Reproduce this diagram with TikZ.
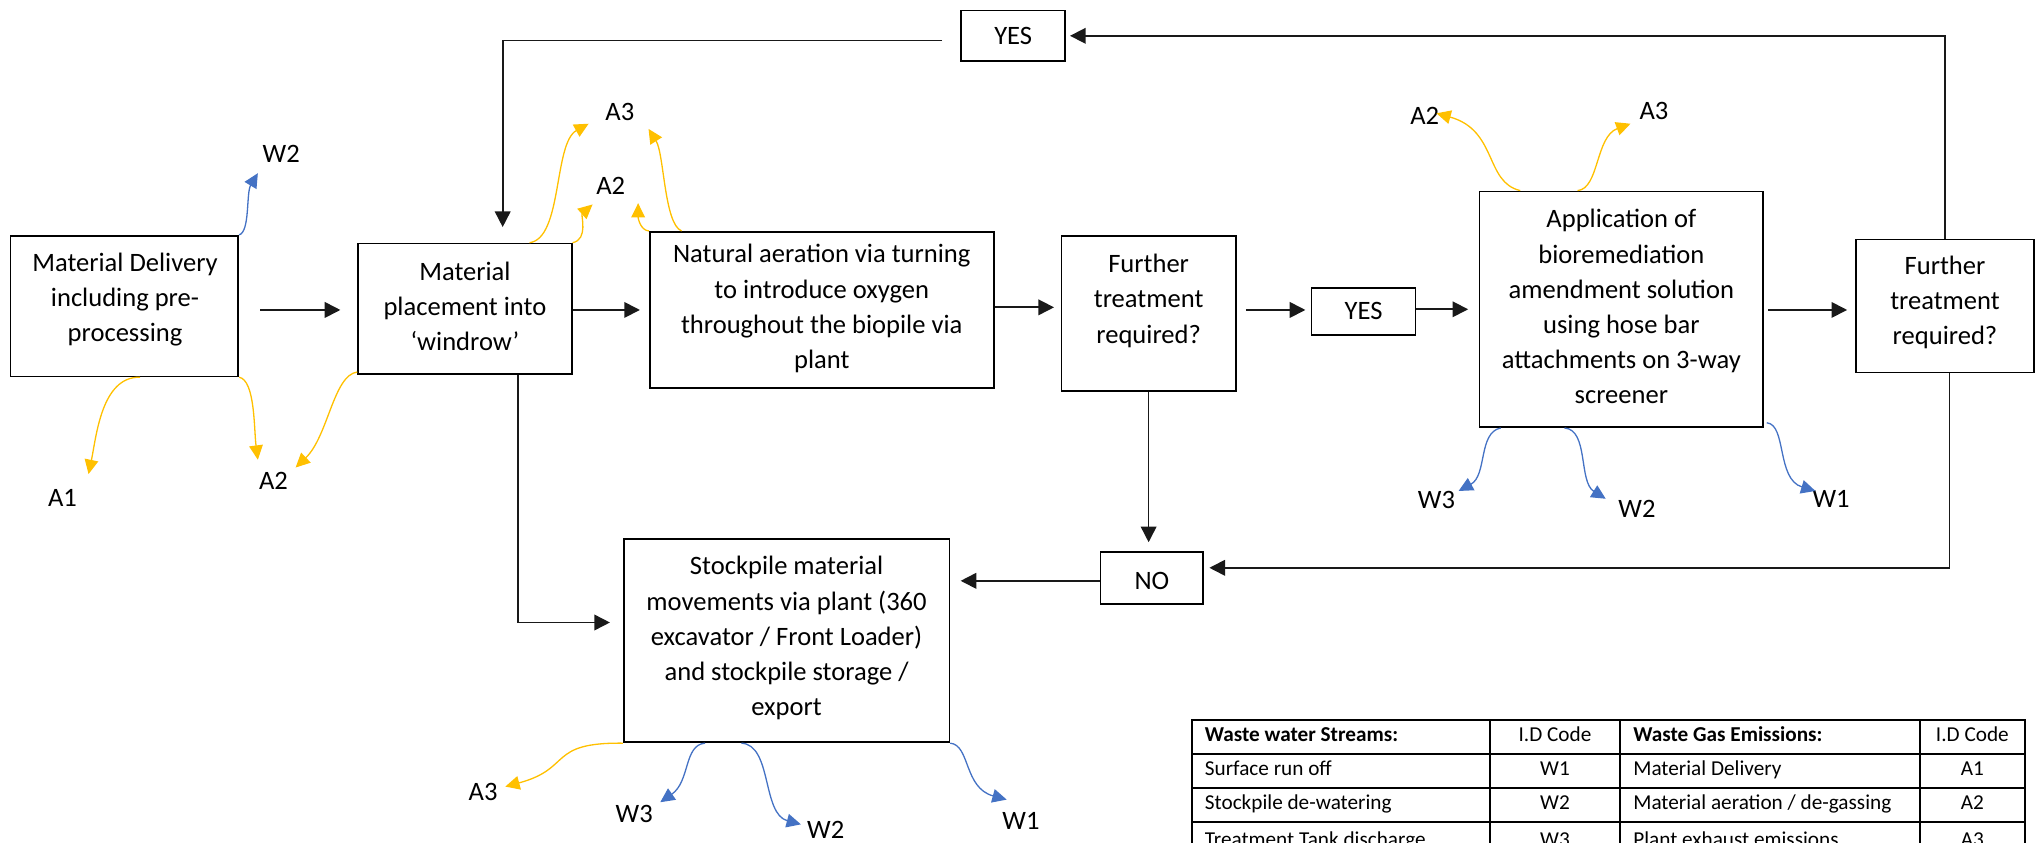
\documentclass[tikz,border=0pt]{standalone}
\usepackage{fontspec}
\setmainfont{Carlito}
\usetikzlibrary{arrows.meta,calc}

\definecolor{gasyellow}{HTML}{FFC000}
\definecolor{waterblue}{HTML}{4472C4}

\tikzset{
  box/.style={draw=black, line width=1.3pt, inner sep=0pt},
  txt/.style={align=center, inner sep=0pt, font=\fontsize{20.4}{27}\selectfont},
  lbl/.style={inner sep=0pt, font=\fontsize{20.4}{24}\selectfont},
  flow/.style={draw=black!90, line width=1.3pt, -{Triangle[length=12pt,width=12pt]}},
  gas/.style={draw=gasyellow, line width=1pt, -{Triangle[length=11pt,width=10.5pt]}},
  water/.style={draw=waterblue, line width=1pt, -{Triangle[length=11pt,width=10.5pt]}},
  grid/.style={draw=black, line width=1.4pt},
  cell/.style={inner sep=0pt, text height=11pt, text depth=3.5pt, font=\fontsize{16.3}{19}\selectfont},
}

\begin{document}
\begin{tikzpicture}[x=1pt,y=-1pt]
\useasboundingbox (0,0) rectangle (1568,647);

% process boxes
\node[box, minimum width=175, minimum height=108] (b1) at (95.5,235) {};
\node[box, minimum width=164, minimum height=100] (b2) at (357,237) {};
\node[box, minimum width=264, minimum height=120] (b3) at (631,238) {};
\node[box, minimum width=134, minimum height=119] (b4) at (882,240.5) {};
\node[box, minimum width=80, minimum height=36] (yes1) at (1047,239) {};
\node[box, minimum width=218, minimum height=181] (b6) at (1245,237.5) {};
\node[box, minimum width=137, minimum height=102] (b7) at (1493.5,235) {};
\node[box, minimum width=80, minimum height=39] (yes2) at (778,27.5) {};
\node[box, minimum width=79, minimum height=40] (no) at (884.5,444) {};
\node[box, minimum width=250, minimum height=156] (sp) at (604,492) {};

% box texts
\node[txt] (b1t) at (96,230) {Material Delivery\\including pre-\\processing};
\node[txt] (b2t) at (357,235) {Material\\placement into\\‘windrow’};
\node[txt] (b3t) at (631,237) {Natural aeration via turning\\to introduce oxygen\\throughout the biopile via\\plant};
\node[txt] (b4t) at (882,231) {Further\\treatment\\required?};
\node[txt] (yes1t) at (1047,239) {YES};
\node[txt] (b6t) at (1245,235.5) {Application of\\bioremediation\\amendment solution\\using hose bar\\attachments on 3-way\\screener};
\node[txt] (b7t) at (1493.5,232) {Further\\treatment\\required?};
\node[txt] (yes2t) at (778,28) {YES};
\node[txt] (not) at (884.5,446) {NO};
\node[txt] (spt) at (604,490) {Stockpile material\\movements via plant (360\\excavator / Front Loader)\\and stockpile storage /\\export};

% heights of the horizontal flow arrows
\coordinate (f0) at (200,238);
\coordinate (h2) at (0,238);
\coordinate (h3) at (0,236);
\coordinate (h4) at (0,238);
\coordinate (h5) at (0,237.5);
\coordinate (h6) at (0,238);

% main flow
\draw[flow, shorten >=13pt] (f0) -- (f0 -| b2.west);
\draw[flow, shorten >=7pt] (b2.east |- h2) -- (b3.west |- h2);
\draw[flow, shorten >=5pt] (b3.east |- h3) -- (b4.west |- h3);
\draw[flow, shorten <=7pt, shorten >=4pt] (b4.east |- h4) -- (yes1.west |- h4);
\draw[flow, shorten >=8pt] (yes1.east |- h5) -- (b6.west |- h5);
\draw[flow, shorten <=3pt, shorten >=6pt] (b6.east |- h6) -- (b7.west |- h6);

% loop back from the second decision
\draw[flow, shorten >=3pt] (b7.north) |- (yes2.east);
\coordinate (k2) at (386,31);
\draw[flow, shorten <=14pt, shorten >=12pt] (yes2.west |- k2) -- (k2) -- (k2 |- b2.north);

% paths to the stockpile
\draw[flow, shorten >=7pt] (b4.south) -- (b4.south |- no.north);
\coordinate (k3) at (1497,436);
\draw[flow, shorten >=4pt] (k3 |- b7.south) -- (k3) -- (k3 -| no.east);
\draw[flow, shorten >=8pt] ([yshift=-2pt]no.west) -- ([yshift=-2pt]no.west -| sp.east);
\coordinate (k4) at (398,478);
\draw[flow, shorten >=10pt] (k4 |- b2.south) -- (k4) -- (k4 -| sp.west);

% emission labels
\node[lbl] (w2a) at (216,118) {W2};
\node[lbl] (a1a) at (48,382) {A1};
\node[lbl] (a2a) at (210,369) {A2};
\node[lbl] (a3b) at (476,86) {A3};
\node[lbl] (a2b) at (469,143) {A2};
\node[lbl] (a2c) at (1094,89) {A2};
\node[lbl] (a3c) at (1270,85) {A3};
\node[lbl] (w3c) at (1103,384) {W3};
\node[lbl] (w2c) at (1257,391) {W2};
\node[lbl] (w1c) at (1406,383) {W1};
\node[lbl] (a3d) at (371,608) {A3};
\node[lbl] (w3d) at (487,625) {W3};
\node[lbl] (w2d) at (634,637) {W2};
\node[lbl] (w1d) at (784,630) {W1};

% arrow tips of the emission curves
\coordinate (tw2a) at (198,133);
\coordinate (ta1a) at (68,364);
\coordinate (ta2a) at (198,353);
\coordinate (ta2x) at (227,359);
\coordinate (ta3b) at (452,95);
\coordinate (ta2b) at (455,157);
\coordinate (ta2y) at (490,156);
\coordinate (ta3y) at (498,99);
\coordinate (ta2c) at (1103,87);
\coordinate (ta3c) at (1252,95);
\coordinate (tw3c) at (1120,377);
\coordinate (tw2c) at (1233,383);
\coordinate (tw1c) at (1394,377);
\coordinate (ta3d) at (388,604);
\coordinate (tw3d) at (507,616);
\coordinate (tw2d) at (615,633);
\coordinate (tw1d) at (773,614);

% emissions from material delivery
\draw[water] (b1.north east) .. controls (192,178) and (189,148) .. (tw2a);
\draw[gas] ([xshift=12pt]b1.south) .. controls (78,289) and (74,335) .. (ta1a);
\draw[gas] (b1.south east) .. controls (196,292) and (195,330) .. (ta2a);

% emissions from windrow placement
\draw[gas] ([yshift=2pt]b2.south west) .. controls (256,288) and (252,335) .. (ta2x);
\draw[gas] ([xshift=-33pt]b2.north east) .. controls (432,183) and (425,110) .. (ta3b);
\draw[gas] (b2.north east) .. controls (452,184) and (446,165) .. (ta2b);

% emissions from aeration
\draw[gas] (b3.north west) .. controls (492,177) and (490,168) .. (ta2y);
\draw[gas] ([xshift=25pt]b3.north west) .. controls (510,172) and (510,118) .. (ta3y);

% emissions from bioremediation amendment
\draw[gas] ([xshift=32pt]b6.north west) .. controls (1140,140) and (1150,100) .. (ta2c);
\draw[gas] ([xshift=76pt]b6.north west) .. controls (1228,145) and (1225,105) .. (ta3c);
\draw[water] ([xshift=17pt]b6.south west) .. controls (1135,332) and (1142,365) .. (tw3c);
\draw[water] ([xshift=66pt]b6.south west) .. controls (1220,330) and (1212,370) .. (tw2c);
\draw[water] ([xshift=2pt,yshift=4pt]b6.south east) .. controls (1372,326) and (1364,368) .. (tw1c);

% emissions from stockpile handling
\draw[gas] (sp.south west) .. controls (420,570) and (440,590) .. (ta3d);
\draw[water] ([xshift=63pt]sp.south west) .. controls (525,572) and (530,600) .. (tw3d);
\draw[water] ([xshift=91pt]sp.south west) .. controls (593,572) and (585,625) .. (tw2d);
\draw[water] (sp.south east) .. controls (745,572) and (740,605) .. (tw1d);

% key table, running on below the lower edge
\begin{scope}
\clip (0,0) rectangle (1568,647);
\draw[grid] (915,553) rectangle (1555,700);
\foreach \yy in {579,605,631,657} \draw[grid] (915,\yy) -- (1555,\yy);
\foreach \xx in {1144,1244,1474} \draw[grid] (\xx,553) -- (\xx,700);
\node[cell, anchor=west] (h1) at (925,566) {\textbf{Waste water Streams:}};
\node[cell] (h2) at (1194,566) {I.D Code};
\node[cell, anchor=west] (h3) at (1254,566) {\textbf{Waste Gas Emissions:}};
\node[cell] (h4) at (1514.5,566) {I.D Code};
\node[cell, anchor=west] (r11) at (925,592) {Surface run off};
\node[cell] (r12) at (1194,592) {W1};
\node[cell, anchor=west] (r13) at (1254,592) {Material Delivery};
\node[cell] (r14) at (1514.5,592) {A1};
\node[cell, anchor=west] (r21) at (925,618) {Stockpile de-watering};
\node[cell] (r22) at (1194,618) {W2};
\node[cell, anchor=west] (r23) at (1254,618) {Material aeration / de-gassing};
\node[cell] (r24) at (1514.5,618) {A2};
\node[cell, anchor=west] (r31) at (925,646) {Treatment Tank discharge};
\node[cell] (r32) at (1194,646) {W3};
\node[cell, anchor=west] (r33) at (1254,646) {Plant exhaust emissions};
\node[cell] (r34) at (1514.5,646) {A3};
\end{scope}
\end{tikzpicture}
\end{document}
